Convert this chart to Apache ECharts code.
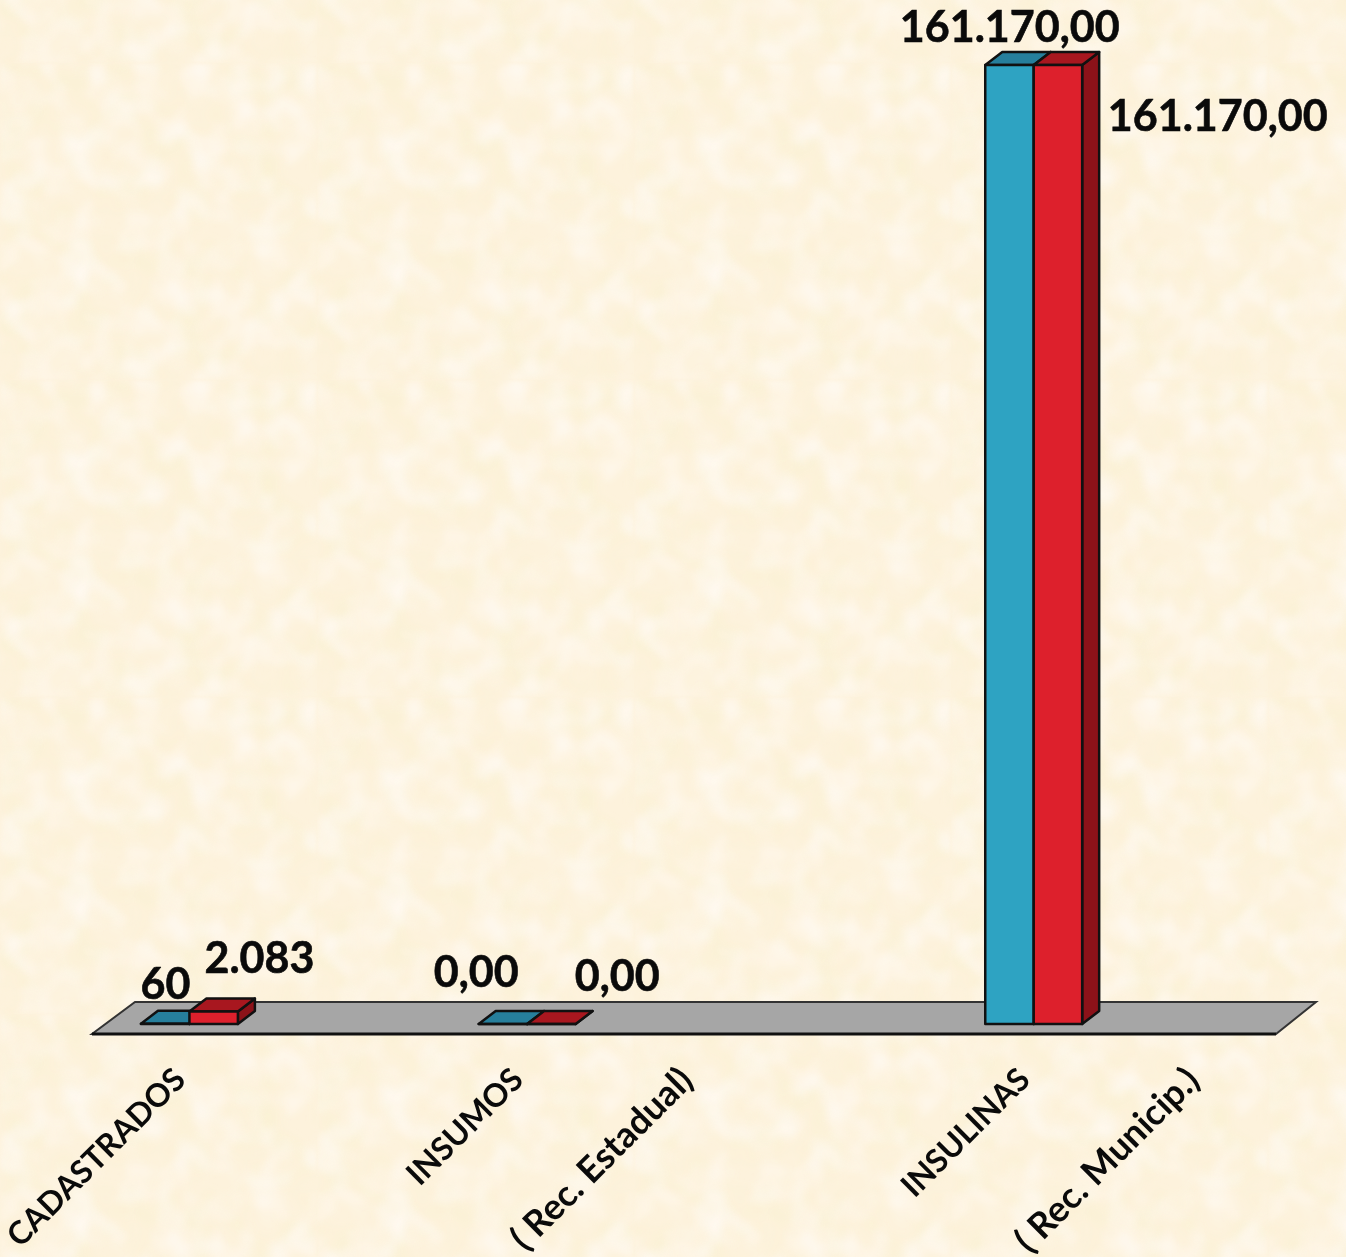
<!DOCTYPE html>
<html>
<head>
<meta charset="utf-8">
<title>Cadastrados, insumos e insulinas</title>
<script src="https://cdn.jsdelivr.net/npm/echarts@6/dist/echarts.min.js"></script>
<style>
html, body {
  margin: 0;
  padding: 0;
  background-color: #fdf2dc;
}
#chart {
  width: 1346px;
  height: 1257px;
}
</style>
</head>
<body>
<div id="chart"></div>
<script>
// blank slots are part of the original axis, the labels sit one slot apart
const categories = ['CADASTRADOS', '', 'INSUMOS', '( Rec. Estadual)', '', 'INSULINAS', '( Rec. Municip.)']

const estadualSlots = [0, 2, 5]
const estadualValues = [60, 0, 161170]
const estadualLabels = ['60', '0,00', '161.170,00']
const estadualLabelOffsets = [[-24, -39], [-51, -51], [-24, -37]]

const municipalSlots = [0, 2, 5]
const municipalValues = [2083, 0, 161170]
const municipalLabels = ['2.083', '0,00', '161.170,00']
const municipalLabelOffsets = [[70, -52], [90, -47], [184, 52]]

const barRatio = 0.287
const depthX = 17
const depthY = -13

// parchment tile, same size as the repeat in the picture
const tile = `<svg xmlns="http://www.w3.org/2000/svg" width="317" height="317">
<filter id="a" x="0" y="0" width="100%" height="100%"><feTurbulence type="fractalNoise" baseFrequency="0.028" numOctaves="2" seed="7" stitchTiles="stitch"/>
<feColorMatrix values="0 0 0 0 0.96 0 0 0 0 0.88 0 0 0 0 0.66 2 0 0 0 -0.75"/><feGaussianBlur stdDeviation="2"/></filter>
<filter id="b" x="0" y="0" width="100%" height="100%"><feTurbulence type="fractalNoise" baseFrequency="0.03" numOctaves="2" seed="21" stitchTiles="stitch"/>
<feColorMatrix values="0 0 0 0 1 0 0 0 0 0.96 0 0 0 0 0.91 1.8 0 0 0 -0.72"/><feGaussianBlur stdDeviation="2"/></filter>
<rect width="317" height="317" filter="url(#a)"/><rect width="317" height="317" filter="url(#b)"/></svg>`
document.body.style.backgroundImage = 'url("data:image/svg+xml,' + encodeURIComponent(tile) + '")'
document.body.style.backgroundSize = '317px 317px'
document.body.style.backgroundPosition = '0 63px'

const myChart = echarts.init(document.querySelector('#chart'), null, { renderer: 'canvas' })

const renderFloor = (params, api) => {
  const box = params.coordSys
  const bottom = box.y + box.height
  const front = bottom + 10
  const back = bottom - 22
  const points = [
    [box.x - 13, front],
    [box.x + box.width - 11, front],
    [box.x + box.width + 29, back],
    [box.x + 30, back]
  ]
  return {
    type: 'group',
    children: [
      {
        type: 'polygon',
        shape: { points: points },
        style: { fill: '#a6a6a6', stroke: '#333333', lineWidth: 2 }
      },
      {
        type: 'line',
        shape: { x1: points[0][0], y1: front, x2: points[1][0], y2: front },
        style: { stroke: '#111111', lineWidth: 3 }
      }
    ]
  }
}

const makeBarRender = (side, colors, labels, offsets) => (params, api) => {
  const slot = api.value(0)
  const top = api.coord([slot, api.value(1)])
  const base = api.coord([slot, 0])
  const width = api.size([1, 0])[0] * barRatio
  const left = side === 'left' ? top[0] - width : top[0]
  const right = left + width
  const edge = { stroke: '#111111', lineWidth: 2.5, lineJoin: 'round' }
  const children = [
    {
      type: 'polygon',
      shape: { points: [[right, base[1]], [right + depthX, base[1] + depthY], [right + depthX, top[1] + depthY], [right, top[1]]] },
      style: Object.assign({ fill: colors.side }, edge)
    },
    {
      type: 'polygon',
      shape: { points: [[left, top[1]], [right, top[1]], [right + depthX, top[1] + depthY], [left + depthX, top[1] + depthY]] },
      style: Object.assign({ fill: colors.top }, edge)
    },
    {
      type: 'rect',
      shape: { x: left, y: top[1], width: width, height: base[1] - top[1] },
      style: Object.assign({ fill: colors.front }, edge)
    },
    {
      type: 'text',
      x: top[0] + offsets[params.dataIndex][0],
      y: top[1] + offsets[params.dataIndex][1],
      style: {
        text: labels[params.dataIndex],
        fill: '#0a0a0a',
        stroke: '#0a0a0a',
        lineWidth: 0.6,
        font: 'bold 43px Lato',
        align: 'center',
        verticalAlign: 'middle'
      }
    }
  ]
  return { type: 'group', children: children }
}

const option = {
  animation: false,
  backgroundColor: 'transparent',
  grid: {
    left: 105,
    top: 12.4,
    width: 1182,
    height: 1011.6,
    outerBoundsMode: 'none'
  },
  xAxis: {
    type: 'category',
    data: categories,
    axisLine: { show: false },
    axisTick: { show: false },
    axisLabel: {
      interval: 0,
      rotate: 45,
      margin: 41,
      padding: [0, 13, 0, 0],
      color: '#0a0a0a',
      fontFamily: 'Lato',
      fontWeight: 'bold',
      fontSize: 32,
      // the lower case labels run a little longer in the picture
      formatter: (value) => (value.charAt(0) === '(' ? '{sub|' + value + '}' : value),
      rich: {
        sub: {
          color: '#0a0a0a',
          fontFamily: 'Lato',
          fontWeight: 'bold',
          fontSize: 36
        }
      }
    }
  },
  yAxis: {
    type: 'value',
    min: 0,
    max: 170000,
    show: false
  },
  series: [
    {
      name: 'piso',
      type: 'custom',
      clip: false,
      silent: true,
      z: 1,
      data: [[0, 0]],
      renderItem: renderFloor
    },
    {
      name: 'Rec. Estadual',
      type: 'custom',
      clip: false,
      z: 2,
      data: estadualSlots.map((slot, i) => [slot, estadualValues[i]]),
      renderItem: makeBarRender('left', { front: '#2ea3c2', top: '#267f9c', side: '#1f6c85' }, estadualLabels, estadualLabelOffsets)
    },
    {
      name: 'Rec. Municipal',
      type: 'custom',
      clip: false,
      z: 3,
      data: municipalSlots.map((slot, i) => [slot, municipalValues[i]]),
      renderItem: makeBarRender('right', { front: '#dd202c', top: '#a8171f', side: '#8c1219' }, municipalLabels, municipalLabelOffsets)
    }
  ]
}

myChart.setOption(option)
</script>
</body>
</html>
